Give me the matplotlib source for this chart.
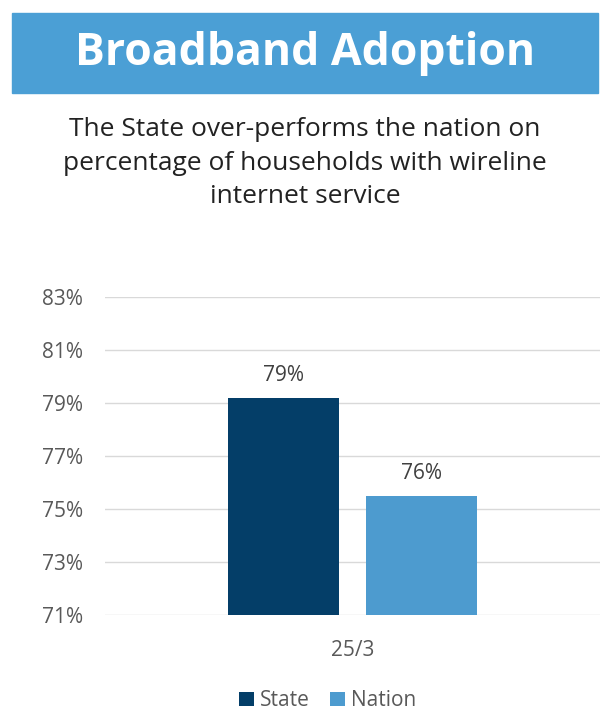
import matplotlib.pyplot as plt
from matplotlib.patches import Rectangle

plt.rcParams['font.family'] = ['Open Sans', 'DejaVu Sans']

# data
categories = ['25/3']
series = ['State', 'Nation']
values = {'State': [79.2], 'Nation': [75.5]}
labels = {'State': ['79%'], 'Nation': ['76%']}
yticks = [71, 73, 75, 77, 79, 81, 83]
colors = {'State': '#043E68', 'Nation': '#4D9BCF'}

fig = plt.figure(figsize=(6.1, 7.15), dpi=100)

# title banner
fig.patches.append(Rectangle((12 / 610, 1 - 93 / 715), 586 / 610, 80 / 715,
                             transform=fig.transFigure, color='#4B9FD5', zorder=0))
fig.text(0.5, 1 - 54 / 715, 'Broadband Adoption', ha='center', va='center',
         color='white', fontsize=32, fontweight='bold')
fig.text(0.5, 1 - 163 / 715,
         'The State over-performs the nation on\npercentage of households with wireline\ninternet service',
         ha='center', va='center', fontsize=19, color='#222222', linespacing=1.45)

ax = fig.add_axes([105 / 610, 1 - 615 / 715, 495 / 610, 318 / 715])
width = 0.225
offsets = [-0.14, 0.14]
for s, off in zip(series, offsets):
    xs = [i + off for i in range(len(categories))]
    bars = ax.bar(xs, [v - yticks[0] for v in values[s]], width, bottom=yticks[0],
                  color=colors[s], label=s, zorder=3)
    for b, lab in zip(bars, labels[s]):
        ax.text(b.get_x() + b.get_width() / 2, b.get_y() + b.get_height() + 0.45, lab,
                ha='center', va='bottom', fontsize=15, color='#404040')

ax.set_xlim(-0.5, 0.5)
ax.set_ylim(yticks[0], yticks[-1])
ax.set_yticks(yticks)
ax.set_yticklabels([f'{t}%' for t in yticks])
ax.set_xticks(range(len(categories)))
ax.set_xticklabels(categories)
ax.tick_params(axis='both', length=0, labelsize=15, labelcolor='#595959')
ax.tick_params(axis='y', pad=16)
ax.tick_params(axis='x', pad=18)
ax.grid(axis='y', color='#D9D9D9', linewidth=1, zorder=0)
for sp in ax.spines.values():
    sp.set_visible(False)

ax.legend(loc='center', bbox_to_anchor=(0.45, -0.27), ncol=2, frameon=False,
          fontsize=15, handlelength=0.7, handleheight=0.7, handletextpad=0.3,
          columnspacing=1.0, labelcolor='#595959')

fig.savefig('out.png', dpi=100, facecolor='white')
